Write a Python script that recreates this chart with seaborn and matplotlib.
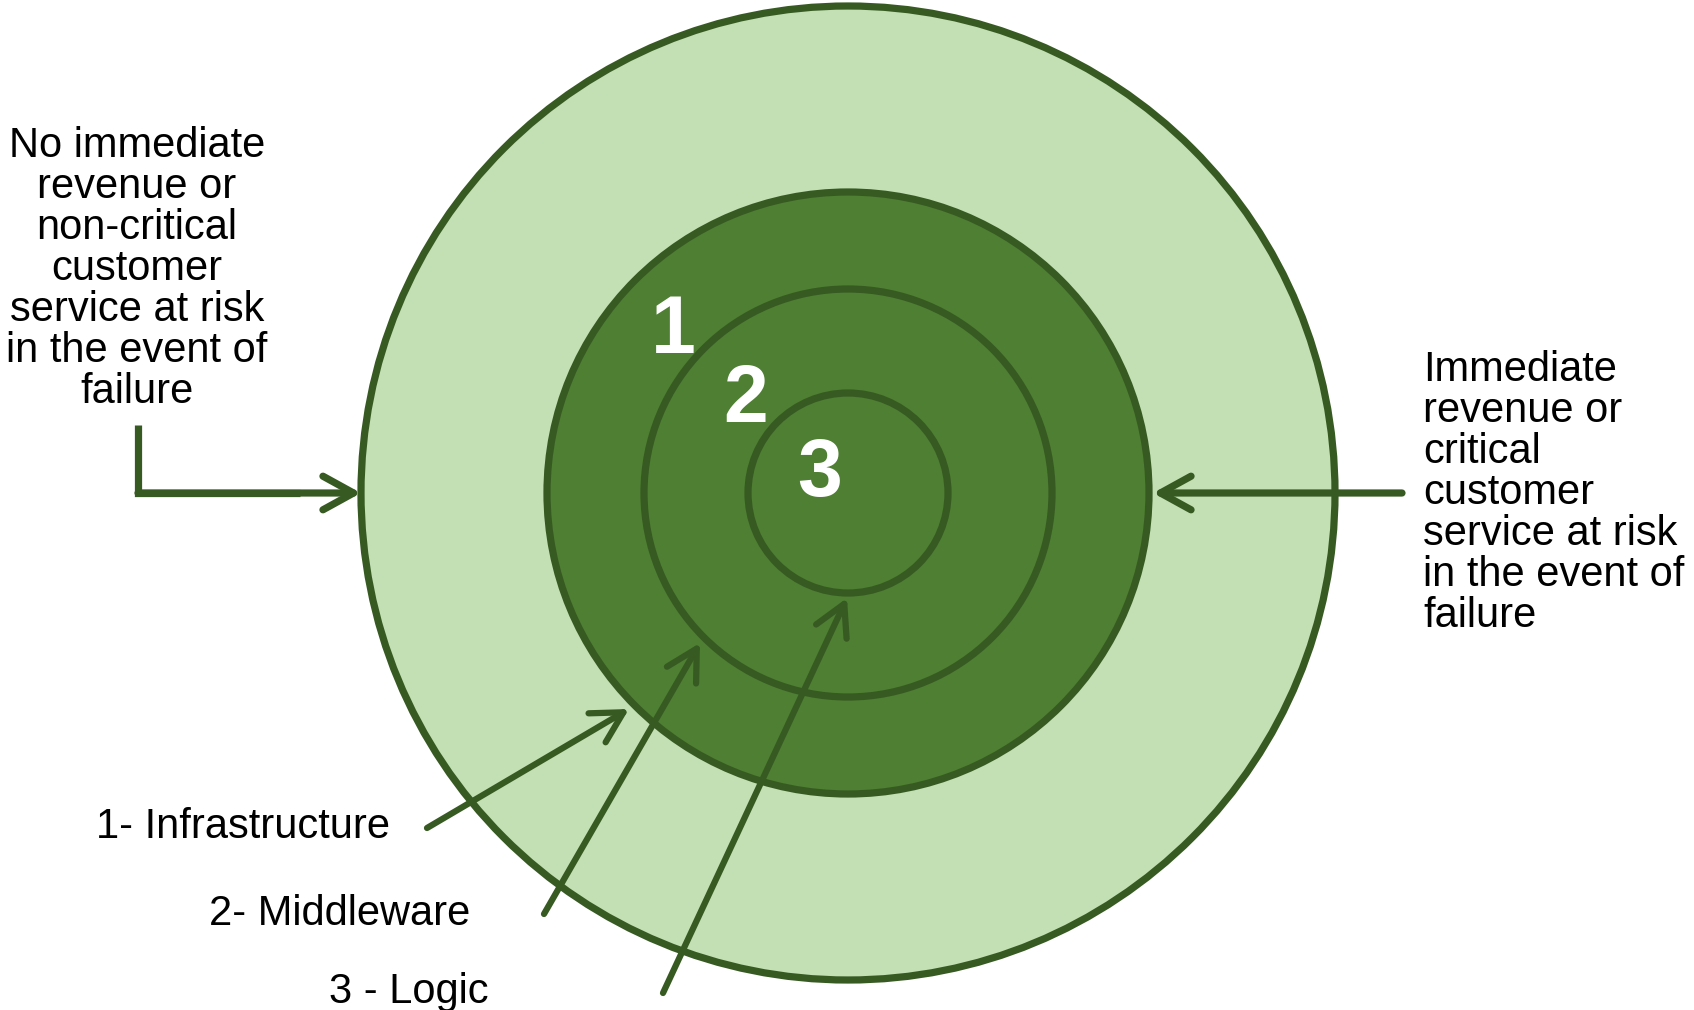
import matplotlib
matplotlib.use("Agg")
import matplotlib.pyplot as plt
import seaborn as sns
from matplotlib.patches import Circle

# content of the diagram
layer_numbers = ["1", "2", "3"]
layer_labels = ["1- Infrastructure", "2- Middleware", "3 - Logic"]
left_note = ["No immediate", "revenue or", "non-critical", "customer",
             "service at risk", "in the event of", "failure"]
right_note = ["Immediate", "revenue or", "critical", "customer",
              "service at risk", "in the event of", "failure"]

LIGHT = "#c2e0b4"
DARK = "#4e7f32"
EDGE = "#375a22"

sns.set_theme(style="white")
plt.rcParams["font.family"] = ["Liberation Sans", "DejaVu Sans"]

fig = plt.figure(figsize=(16.94, 10.10), dpi=100)
ax = fig.add_axes([0, 0, 1, 1])
ax.set_xlim(0, 1694)
ax.set_ylim(1010, 0)
ax.axis("off")

# rings: outer light ring, then the three layers
cx, cy = 848, 493
radii = [487, 301, 204, 100]
fills = [LIGHT, DARK, DARK, DARK]
for r, fc in zip(radii, fills):
    ax.add_patch(Circle((cx, cy), r, facecolor=fc, edgecolor=EDGE, lw=5.2, zorder=1))

# layer numbers
num_pos = [(673, 353), (746, 422), (820, 496)]
for txt, (x, y) in zip(layer_numbers, num_pos):
    ax.text(x, y, txt, color="white", fontsize=58, fontweight="bold",
            ha="center", va="baseline", zorder=3)


def arrow(x0, y0, x1, y1, lw=5):
    ax.annotate("", xy=(x1, y1), xytext=(x0, y0), zorder=4,
                arrowprops=dict(arrowstyle="->,head_length=1.0,head_width=0.55",
                                mutation_scale=22, lw=lw, color=EDGE,
                                shrinkA=0, shrinkB=0,
                                capstyle="round", joinstyle="round"))


# side notes with arrows
ax.plot([138, 138, 300], [425, cy, cy], color=EDGE, lw=5.2,
        solid_joinstyle="miter", solid_capstyle="butt", zorder=4)
arrow(138, cy, 361, cy, lw=5.2)
arrow(1402, cy, 1153, cy, lw=5.2)

# va="baseline" anchors on the last line of a multi-line text
ax.text(137, 403, "\n".join(left_note), fontsize=30, ha="center", va="baseline",
        multialignment="center", linespacing=1.03, color="black")
ax.text(1423, 627, "\n".join(right_note), fontsize=30, ha="left", va="baseline",
        linespacing=1.03, color="black")

# layer labels with arrows pointing at each ring
label_pos = [(96, 838), (209, 925), (329, 1003)]
arrow_lines = [((427, 828), (629, 709)),
               ((544, 914), (700, 643)),
               ((663, 993), (847, 598))]
for txt, (x, y) in zip(layer_labels, label_pos):
    ax.text(x, y, txt, fontsize=30, ha="left", va="baseline", color="black")
for (x0, y0), (x1, y1) in arrow_lines:
    arrow(x0, y0, x1, y1, lw=4.5)

fig.savefig("out.png", dpi=100)
